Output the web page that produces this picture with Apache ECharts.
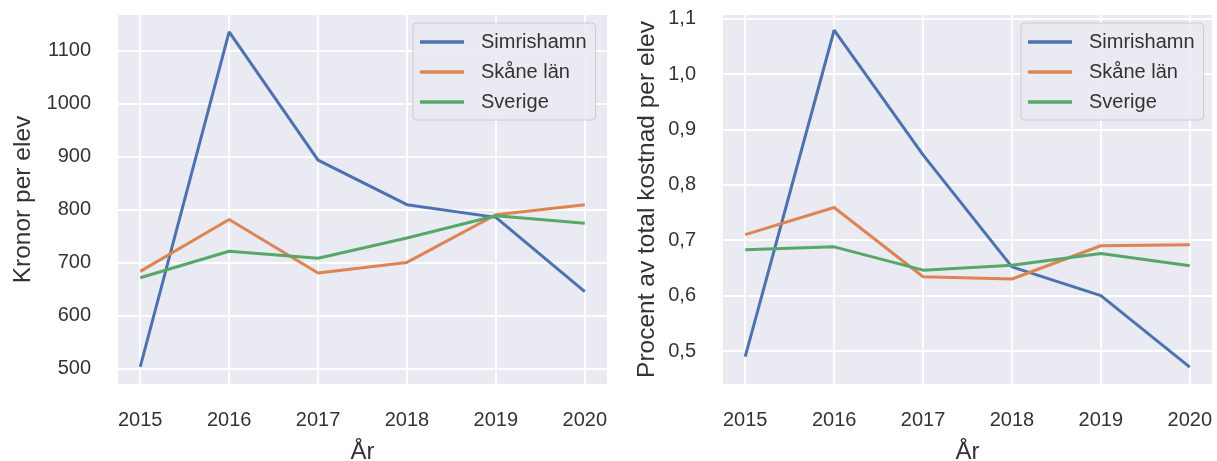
<!DOCTYPE html>
<html>
<head>
<meta charset="utf-8">
<script src="https://cdn.jsdelivr.net/npm/echarts@6/dist/echarts.min.js"></script>
<style>
html,body{margin:0;padding:0;background:#fff;}
#chart{width:1217px;height:461px;}
</style>
</head>
<body>
<div id="chart"></div>
<script>
const years = [2015, 2016, 2017, 2018, 2019, 2020];
const seriesNames = ['Simrishamn', 'Skåne län', 'Sverige'];

const kronorSimrishamn = [503, 1135, 893, 809, 785, 645];
const kronorSkane = [683, 781, 680, 700, 790, 809];
const kronorSverige = [671, 721, 708, 746, 788, 774];

const procentSimrishamn = [0.490, 1.079, 0.854, 0.652, 0.600, 0.471];
const procentSkane = [0.710, 0.759, 0.634, 0.630, 0.690, 0.692];
const procentSverige = [0.683, 0.688, 0.646, 0.655, 0.676, 0.654];

const kronorTicks = [500, 600, 700, 800, 900, 1000, 1100];
const procentTicks = [0.5, 0.6, 0.7, 0.8, 0.9, 1.0, 1.1];

const colors = ['#4C72B0', '#DD8452', '#55A868'];
const textColor = '#333333';
const font = '"Liberation Sans", Arial, sans-serif';

function pairs(vals) { return years.map((y, i) => [y, vals[i]]); }

function xAxis(gridIndex) {
  return {
    type: 'value', gridIndex: gridIndex, min: 2014.75, max: 2020.25,
    name: 'År', nameLocation: 'middle', nameGap: 56,
    nameTextStyle: { color: textColor, fontSize: 24, fontFamily: font },
    axisLine: { show: false }, axisTick: { show: false, customValues: years },
    axisLabel: { customValues: years, color: textColor, fontSize: 20, fontFamily: font, margin: 26, formatter: v => String(v) },
    splitLine: { show: true, lineStyle: { color: '#ffffff', width: 1.8 } }
  };
}
function yAxis(gridIndex, min, max, ticks, name, gap, fmt) {
  return {
    type: 'value', gridIndex: gridIndex, min: min, max: max,
    name: name, nameLocation: 'middle', nameGap: gap, nameRotate: 90,
    nameTextStyle: { color: textColor, fontSize: 24.5, fontFamily: font },
    axisLine: { show: false }, axisTick: { show: false, customValues: ticks },
    axisLabel: { customValues: ticks, color: textColor, fontSize: 20, fontFamily: font, margin: 27, formatter: fmt },
    splitLine: { show: true, lineStyle: { color: '#ffffff', width: 1.8 } }
  };
}
function line(name, vals, idx, color) {
  return {
    name: name, type: 'line', xAxisIndex: idx, yAxisIndex: idx,
    data: pairs(vals), showSymbol: false, symbol: 'none',
    lineStyle: { color: color, width: 3 }, itemStyle: { color: color },
    animation: false
  };
}
function legend(left) {
  return {
    orient: 'vertical', left: left, top: 23,
    data: seriesNames, icon: 'rect', itemWidth: 44, itemHeight: 3.5, itemGap: 10,
    padding: [9, 9, 8, 7],
    backgroundColor: 'rgba(234,234,242,0.85)', borderColor: '#cccccc', borderWidth: 1, borderRadius: 4,
    textStyle: { color: textColor, fontSize: 20, fontFamily: font, padding: [0, 0, 0, 12], lineHeight: 20 },
    selectedMode: false
  };
}

const chart = echarts.init(document.getElementById('chart'), null, { renderer: 'canvas' });
chart.setOption({
  animation: false,
  color: colors,
  grid: [
    { left: 118, top: 15, width: 489, height: 369, show: true, backgroundColor: '#EAEAF2', borderWidth: 0, containLabel: false, outerBoundsMode: 'none' },
    { left: 723, top: 15, width: 489, height: 369, show: true, backgroundColor: '#EAEAF2', borderWidth: 0, containLabel: false, outerBoundsMode: 'none' }
  ],
  xAxis: [xAxis(0), xAxis(1)],
  yAxis: [
    yAxis(0, 470.5, 1167, kronorTicks, 'Kronor per elev', 82, v => String(v)),
    yAxis(1, 0.4405, 1.1065, procentTicks, 'Procent av total kostnad per elev', 63, v => v.toFixed(1).replace('.', ','))
  ],
  legend: [legend(413), legend(1021)],
  series: [
    line('Simrishamn', kronorSimrishamn, 0, colors[0]),
    line('Skåne län', kronorSkane, 0, colors[1]),
    line('Sverige', kronorSverige, 0, colors[2]),
    line('Simrishamn', procentSimrishamn, 1, colors[0]),
    line('Skåne län', procentSkane, 1, colors[1]),
    line('Sverige', procentSverige, 1, colors[2])
  ]
});
</script>
</body>
</html>
